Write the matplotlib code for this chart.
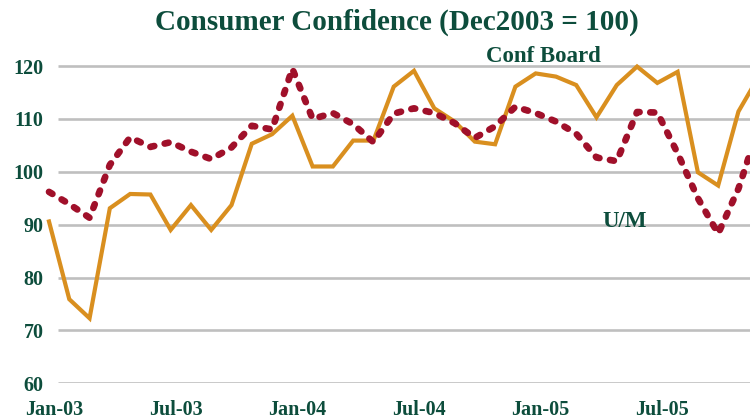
import matplotlib
matplotlib.use("Agg")
import matplotlib.pyplot as plt

months = [f"{m}-{y:02d}" for y in (3, 4, 5)
          for m in ("Jan", "Feb", "Mar", "Apr", "May", "Jun",
                    "Jul", "Aug", "Sep", "Oct", "Nov", "Dec")]

conf_board = [90.6, 75.9, 72.3, 93.1, 95.8, 95.7, 89.0, 93.7, 89.0, 93.7, 105.3, 107.1,
              110.6, 101.0, 101.0, 105.9, 105.9, 116.1, 119.1, 112.0, 109.5, 105.7, 105.2, 116.1,
              118.6, 118.0, 116.4, 110.3, 116.4, 119.9, 116.8, 118.9, 99.9, 97.4, 111.4, 118.0]

u_m = [96.2, 93.9, 91.3, 101.3, 106.5, 104.7, 105.6, 103.8, 102.4, 104.6, 108.7, 108.0,
       119.5, 110.0, 111.1, 109.0, 105.6, 111.0, 112.0, 111.1, 109.2, 106.4, 108.6, 112.3,
       111.1, 109.5, 107.2, 102.7, 102.0, 111.3, 111.2, 103.5, 95.0, 88.3, 96.8, 108.5]

tick_labels = ["Jan-03", "Jul-03", "Jan-04", "Jul-04", "Jan-05", "Jul-05"]
y_ticks = [60, 70, 80, 90, 100, 110, 120]

green = "#0d4d3c"
orange = "#d98f1f"
red = "#a0102a"
grey = "#bfbfbf"
serif = ["Liberation Serif", "DejaVu Serif"]

fig = plt.figure(figsize=(7.5, 4.2), dpi=100)
ax = fig.add_axes([49 / 750, 0.0874, 1 - 49 / 750, 0.868 - 0.0874])

x = list(range(len(months)))
x_right = 34.57

# grid starts a little to the right of the first month, as in the source
ax.hlines(y_ticks, 0.44, x_right, color=grey, linewidth=1.9, zorder=1)

ax.plot(x, conf_board, color=orange, linewidth=3.0, solid_joinstyle="miter",
        clip_on=False, zorder=3)
ax.plot(x, u_m, color=red, linewidth=4.8, linestyle=(0, (0.6, 1.6)),
        dash_capstyle="round", clip_on=False, zorder=4)

ax.set_yticks(y_ticks)
ax.set_yticklabels([str(v) for v in y_ticks])
# month labels sit a touch right of their points in the source
ax.set_xticks([months.index(t) + 0.25 for t in tick_labels])
ax.set_xticklabels(tick_labels)

ax.set_xlim(0, x_right)
ax.set_ylim(60, 122)

for lab in ax.get_xticklabels() + ax.get_yticklabels():
    lab.set_family(serif)
    lab.set_fontweight("bold")
    lab.set_color(green)
    lab.set_fontsize(14.5)

ax.tick_params(axis="both", length=0)
ax.tick_params(axis="y", pad=4)
ax.tick_params(axis="x", pad=12)

for s in ax.spines.values():
    s.set_visible(False)

ax.text(24.36, 121.8, "Conf Board", family=serif, fontweight="bold",
        fontsize=16.5, color=green, ha="center", va="center")
ax.text(28.4, 90.6, "U/M", family=serif, fontweight="bold",
        fontsize=16.5, color=green, ha="center", va="center")

fig.text(0.529, 0.948, "Consumer Confidence (Dec2003 = 100)", family=serif,
         fontweight="bold", fontsize=21, color=green, ha="center", va="center")

fig.savefig("out.png", dpi=100)
